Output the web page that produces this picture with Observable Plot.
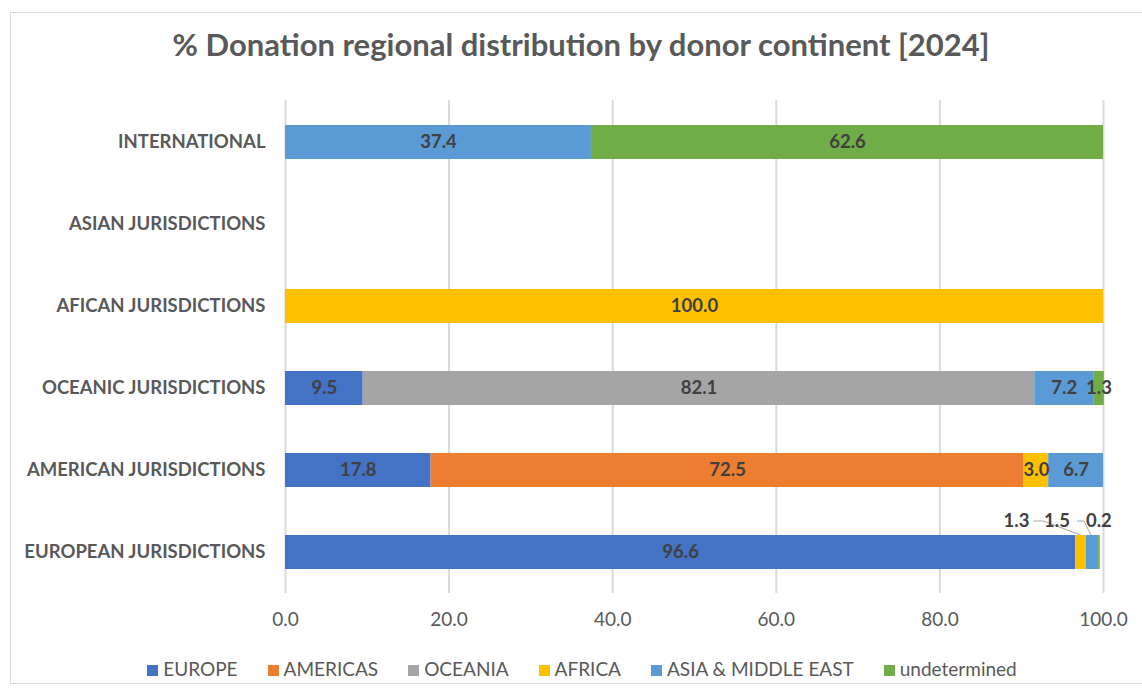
<!DOCTYPE html>
<html><head><meta charset="utf-8">
<script src="https://cdn.jsdelivr.net/npm/d3@7"></script>
<script src="https://cdn.jsdelivr.net/npm/@observablehq/plot@0.6"></script>
<style>
body{margin:0;background:#fff;font-family:Lato, sans-serif;overflow:hidden;}
#frame{position:absolute;left:10px;top:12px;width:1140px;height:672px;border:1px solid #d9d9d9;box-sizing:border-box;}
#title{position:absolute;left:0;width:1162px;top:24px;text-align:center;font-size:31px;font-weight:bold;color:#595959;line-height:40px;}
#chart{position:absolute;left:0;top:90px;}
#legend{position:absolute;top:657px;left:0;width:1164px;display:flex;justify-content:center;gap:30px;font-size:19px;color:#595959;line-height:24px;}
#legend span.sw{display:inline-block;width:11px;height:11px;margin-right:5px;}
</style></head><body>
<div id="frame"></div>
<div id="title">% Donation regional distribution by donor continent [2024]</div>
<div id="chart"></div>
<div id="legend"></div>
<script>
const categories = ["INTERNATIONAL","ASIAN JURISDICTIONS","AFICAN JURISDICTIONS","OCEANIC JURISDICTIONS","AMERICAN JURISDICTIONS","EUROPEAN JURISDICTIONS"];
const seriesNames = ["EUROPE","AMERICAS","OCEANIA","AFRICA","ASIA & MIDDLE EAST","undetermined"];
const europe       = [0, 0, 0, 9.5, 17.8, 96.6];
const americas     = [0, 0, 0, 0, 72.5, 0];
const oceania      = [0, 0, 0, 82.1, 0, 0];
const africa       = [0, 0, 100.0, 0, 3.0, 1.3];
const asia         = [37.4, 0, 0, 7.2, 6.7, 1.5];
const undetermined = [62.6, 0, 0, 1.3, 0, 0.2];
const xTicks = [0, 20, 40, 60, 80, 100];
const colors = ["#4472C4","#ED7D31","#A5A5A5","#FFC000","#5B9BD5","#70AD47"];

const seriesValues = [europe, americas, oceania, africa, asia, undetermined];
const rows = [];
categories.forEach((c, i) => {
  seriesNames.forEach((s, j) => {
    const v = seriesValues[j][i];
    if (v > 0) rows.push({category: c, series: s, value: v});
  });
});

// labels drawn outside the bar with leader lines (style offsets only)
const outside = {
  "EUROPEAN JURISDICTIONS|AFRICA": {dx: -64, side: "right"},
  "EUROPEAN JURISDICTIONS|ASIA & MIDDLE EAST": {dx: -35, side: "none"},
  "EUROPEAN JURISDICTIONS|undetermined": {dx: 0, side: "left"}
};
const isOutside = d => (d.category + "|" + d.series) in outside;

function leaderMark(index, scales) {
  const g = d3.create("svg:g");
  categories.forEach(cat => {
    let start = 0;
    rows.filter(r => r.category === cat).forEach(r => {
      const key = cat + "|" + r.series;
      const mid = start + r.value / 2;
      start += r.value;
      if (!(key in outside)) return;
      const o = outside[key];
      const cx = scales.x(mid);
      const yTop = scales.y(cat);
      const lx = cx + o.dx;
      const ly = yTop - 14;
      let pts = null;
      if (o.side === "right") pts = [[lx + 17, ly], [lx + 27, ly], [cx, yTop]];
      if (o.side === "left") pts = [[lx - 22, ly], [lx - 15, ly], [cx - 8, yTop]];
      if (pts) g.append("polyline").attr("points", pts.map(p => p.join(",")).join(" "))
        .attr("fill", "none").attr("stroke", "#a6a6a6").attr("stroke-width", 1);
      g.append("text").attr("x", lx).attr("y", ly).attr("dy", "0.35em")
        .attr("text-anchor", "middle").attr("font-size", 18.5).attr("font-weight", "bold")
        .attr("fill", "#404040").attr("font-family", "Lato, sans-serif")
        .text(r.value.toFixed(1));
    });
  });
  return g.node();
}

const chart = Plot.plot({
  width: 1142,
  height: 545,
  marginLeft: 285,
  marginRight: 39,
  marginTop: 10,
  marginBottom: 42,
  style: {fontFamily: "Lato, sans-serif", background: "transparent"},
  x: {domain: [0, 100], ticks: xTicks, tickFormat: d => d.toFixed(1), label: null},
  y: {domain: categories, label: null, paddingInner: 0.59, paddingOuter: 0.295},
  color: {domain: seriesNames, range: colors},
  marks: [
    Plot.ruleX(xTicks, {stroke: "#d9d9d9", strokeWidth: 2}),
    Plot.barX(rows, Plot.stackX({x: "value", y: "category", fill: "series", order: seriesNames})),
    Plot.text(rows, Plot.stackX({x: "value", y: "category", z: "series", order: seriesNames,
      text: d => isOutside(d) ? "" : d.value.toFixed(1), fill: "#404040", fontSize: 18.5, fontWeight: "bold"})),
    leaderMark,
    Plot.axisX({ticks: xTicks, tickFormat: d => d.toFixed(1), tickSize: 0, tickPadding: 19, fontSize: 19, fill: "#595959", label: null}),
    Plot.axisY({tickSize: 0, tickPadding: 20, fontSize: 18.5, fontWeight: "bold", fill: "#595959", label: null})
  ]
});
document.getElementById("chart").appendChild(chart);

const legend = document.getElementById("legend");
seriesNames.forEach((s, i) => {
  const item = document.createElement("div");
  item.innerHTML = `<span class="sw" style="background:${colors[i]}"></span>${s}`;
  legend.appendChild(item);
});
</script>
</body></html>
